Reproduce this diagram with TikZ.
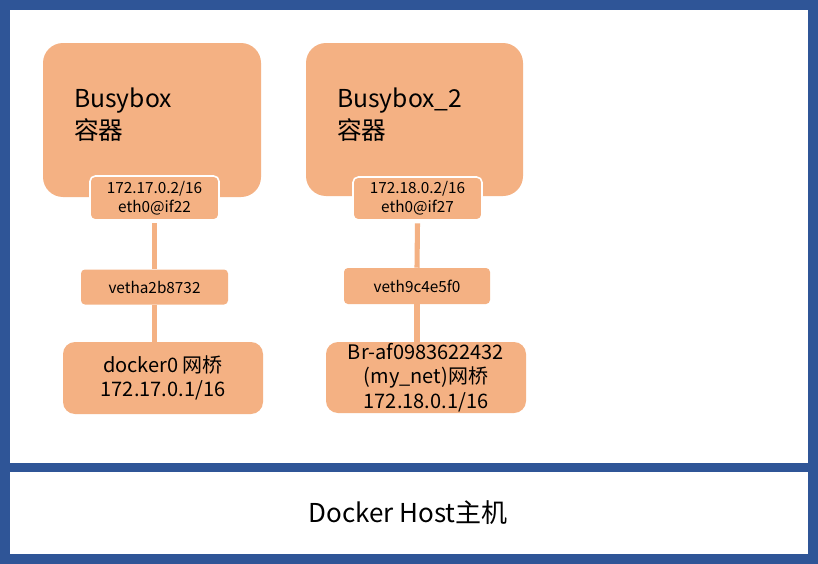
\documentclass[tikz,border=0pt]{standalone}
\usepackage{fontspec}
\setmainfont{Noto Sans CJK SC}
\definecolor{hostblue}{HTML}{2F5597}
\definecolor{boxorange}{HTML}{F4B183}
\tikzset{
  container/.style={fill=boxorange,rounded corners=15pt,inner sep=0pt},
  ifbox/.style={fill=boxorange,draw=white,line width=1.2pt,rounded corners=4pt,align=center,
    font=\fontsize{11.5}{14.4}\selectfont,inner sep=0pt},
  vethbox/.style={fill=boxorange,rounded corners=3pt,inner sep=0pt,font=\fontsize{11.5}{14}\selectfont},
  bridgebox/.style={fill=boxorange,rounded corners=9pt,align=center,inner sep=0pt,
    font=\fontsize{15}{18.3}\selectfont},
  link/.style={draw=boxorange,line width=3.8pt}
}
\begin{document}
\begin{tikzpicture}[x=0.75pt,y=-0.75pt]
  \useasboundingbox (0,0) rectangle (818,564);
  % host frame
  \fill[hostblue] (0,0) rectangle (818,564);
  \fill[white] (10,10) rectangle (808,463);
  \fill[white] (10,472) rectangle (808,554);
  \node[font=\fontsize{19.5}{22}\selectfont] (host) at (408,513) {Docker Host主机};

  % first container
  \node[container,minimum width=218*0.75pt,minimum height=154*0.75pt] (box1) at (152,120) {};
  \node[anchor=west,align=left,inner sep=0pt,font=\fontsize{18.5}{24}\selectfont] (name1) at (74,115) {Busybox\\容器};
  \node[ifbox,minimum width=129*0.75pt,minimum height=44*0.75pt] (ip1) at (154.5,198) {172.17.0.2/16\\eth0@if22};
  \node[vethbox,minimum width=147*0.75pt,minimum height=35*0.75pt] (veth1) at (154.5,287) {vetha2b8732};
  \node[bridgebox,minimum width=200*0.75pt,minimum height=72*0.75pt] (br1) at (163,378) {docker0 网桥\\172.17.0.1/16};

  % second container
  \node[container,minimum width=217*0.75pt,minimum height=153*0.75pt] (box2) at (414.5,119.5) {};
  \node[anchor=west,align=left,inner sep=0pt,font=\fontsize{18.5}{24}\selectfont] (name2) at (337,115) {Busybox\_2\\容器};
  \node[ifbox,minimum width=129*0.75pt,minimum height=43*0.75pt] (ip2) at (417.5,198.5) {172.18.0.2/16\\eth0@if27};
  \node[vethbox,minimum width=146*0.75pt,minimum height=36*0.75pt] (veth2) at (417,286) {veth9c4e5f0};
  \node[bridgebox,minimum width=200*0.75pt,minimum height=71*0.75pt] (br2) at (426,377.5) {Br-af0983622432\\(my\_net)网桥\\172.18.0.1/16};

  % links
  \draw[link] ([yshift=-2pt]ip1.south) -- (veth1.north);
  \draw[link] (veth1.south) -- (veth1.south |- br1.north);
  \draw[link] ([yshift=-2pt]ip2.south) -- (veth2.north);
  \draw[link] (veth2.south) -- (veth2.south |- br2.north);
\end{tikzpicture}
\end{document}
